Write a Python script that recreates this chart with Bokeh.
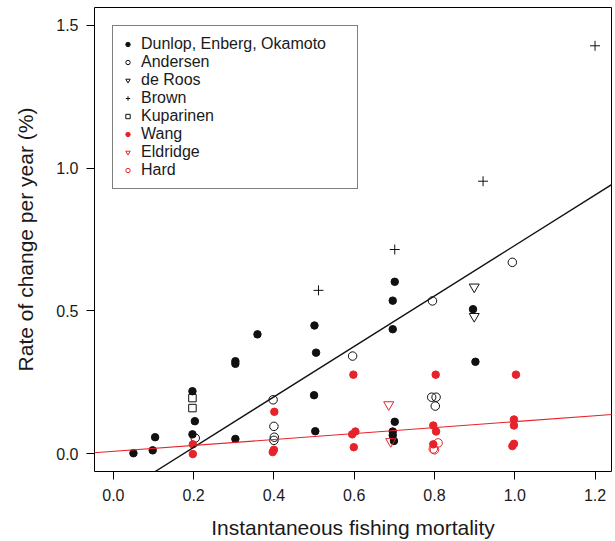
from bokeh.plotting import figure
from bokeh.models import (Slope, Legend, LegendItem, FixedTicker,
                          PrintfTickFormatter, Range1d)
from bokeh.embed import file_html
from bokeh.resources import INLINE

# ---------------- data ----------------
dunlop_x = [0.05, 0.098, 0.104, 0.197, 0.203, 0.197, 0.304, 0.304, 0.304, 0.359,
            0.501, 0.505, 0.500, 0.503, 0.701, 0.696, 0.696, 0.701, 0.696, 0.696, 0.699,
            0.896, 0.902]
dunlop_y = [0.002, 0.012, 0.058, 0.219, 0.114, 0.068, 0.324, 0.315, 0.052, 0.418,
            0.449, 0.354, 0.205, 0.079, 0.602, 0.536, 0.436, 0.112, 0.078, 0.065, 0.045,
            0.506, 0.322]

andersen_x = [0.204, 0.398, 0.400, 0.401, 0.400, 0.596, 0.795, 0.793, 0.804, 0.802, 0.994]
andersen_y = [0.055, 0.189, 0.096, 0.058, 0.047, 0.342, 0.535, 0.198, 0.198, 0.167, 0.670]

deroos_x = [0.899, 0.899]
deroos_y = [0.584, 0.481]

brown_x = [0.511, 0.701, 0.921, 1.200]
brown_y = [0.572, 0.715, 0.954, 1.428]

kuparinen_x = [0.197, 0.197]
kuparinen_y = [0.195, 0.160]

wang_x = [0.198, 0.198, 0.401, 0.400, 0.397, 0.598, 0.595, 0.603, 0.599,
          0.803, 0.797, 0.804, 0.797, 1.003, 0.998, 0.998, 0.998, 0.994]
wang_y = [0.033, -0.001, 0.147, 0.014, 0.006, 0.277, 0.068, 0.078, 0.023,
          0.277, 0.099, 0.078, 0.033, 0.277, 0.120, 0.099, 0.035, 0.027]

eldridge_x = [0.686, 0.691]
eldridge_y = [0.172, 0.043]

hard_x = [0.809, 0.797, 0.800]
hard_y = [0.038, 0.017, 0.014]

# fitted lines (slope, intercept)
black_fit = (0.883, -0.154)
red_fit = (0.104, 0.0084)

x_ticks = [0.0, 0.2, 0.4, 0.6, 0.8, 1.0, 1.2]
y_ticks = [0.0, 0.5, 1.0, 1.5]

series_names = ["Dunlop, Enberg, Okamoto", "Andersen", "de Roos", "Brown",
                "Kuparinen", "Wang", "Eldridge", "Hard"]

# ---------------- style ----------------
RED = "#E6232A"
BLK = "#111111"
FONT = "Liberation Sans"
TXT = "#1a1a1a"
NAN = float("nan")

p = figure(width=615, height=541, output_backend="svg", toolbar_location=None,
           x_range=Range1d(-0.047, 1.241), y_range=Range1d(-0.062, 1.562),
           min_border_left=94, min_border_right=4, min_border_top=7, min_border_bottom=70)
p.grid.visible = False
p.outline_line_color = "black"
p.outline_line_width = 1
p.background_fill_color = "white"
p.border_fill_color = "white"

for ax, ticks in ((p.xaxis[0], x_ticks), (p.yaxis[0], y_ticks)):
    ax.ticker = FixedTicker(ticks=ticks)
    ax.formatter = PrintfTickFormatter(format="%.1f")
    ax.axis_line_color = None
    ax.major_tick_out = 8
    ax.major_tick_in = 0
    ax.minor_tick_out = 0
    ax.minor_tick_in = 0
    ax.major_tick_line_color = "black"
    ax.major_label_text_font = FONT
    ax.major_label_text_font_size = "16px"
    ax.major_label_text_color = TXT
    ax.axis_label_text_font = FONT
    ax.axis_label_text_font_size = "21px"
    ax.axis_label_text_font_style = "normal"
    ax.axis_label_text_color = TXT

p.xaxis.axis_label = "Instantaneous fishing mortality"
p.yaxis.axis_label = "Rate of change per year (%)"
p.xaxis.major_label_standoff = 9
p.xaxis.axis_label_standoff = 12
p.yaxis.major_label_standoff = 8
p.yaxis.axis_label_standoff = 16

# ---------------- points ----------------
specs = [
    (dunlop_x, dunlop_y, "circle", 7.5, BLK, BLK, 6.5),
    (andersen_x, andersen_y, "circle", 8.5, None, BLK, 6.5),
    (deroos_x, deroos_y, "inverted_triangle", 10, None, BLK, 8.5),
    (brown_x, brown_y, "cross", 10, None, BLK, 9),
    (kuparinen_x, kuparinen_y, "square", 7.5, None, BLK, 6.5),
    (wang_x, wang_y, "circle", 7.5, RED, RED, 6.5),
    (eldridge_x, eldridge_y, "inverted_triangle", 10, None, RED, 8.5),
    (hard_x, hard_y, "circle", 8.5, None, RED, 6.5),
]

items = []
for (xs, ys, marker, size, fill, line, lsize), name in zip(specs, series_names):
    p.scatter(x=xs, y=ys, marker=marker, size=size, fill_color=fill,
              line_color=line, line_width=1)
    # legend-only renderer (smaller key glyph), holds no visible point
    dummy = p.scatter(x=[NAN], y=[NAN], marker=marker, size=lsize, fill_color=fill,
                      line_color=line, line_width=1)
    items.append(LegendItem(label=name, renderers=[dummy]))

# ---------------- fitted lines ----------------
p.add_layout(Slope(gradient=black_fit[0], y_intercept=black_fit[1],
                   line_color=BLK, line_width=1.4))
p.add_layout(Slope(gradient=red_fit[0], y_intercept=red_fit[1],
                   line_color=RED, line_width=1.1))

legend = Legend(items=items, location="top_left", margin=18, padding=9, spacing=0,
                glyph_height=18, glyph_width=11, label_height=18, label_standoff=8,
                label_width=207, label_text_font=FONT, label_text_font_size="16px",
                label_text_color=TXT, label_text_baseline="middle",
                border_line_color="black", border_line_width=1,
                background_fill_color="white", background_fill_alpha=1)
p.add_layout(legend, "center")

open("out.html", "w").write(file_html(p, INLINE))
